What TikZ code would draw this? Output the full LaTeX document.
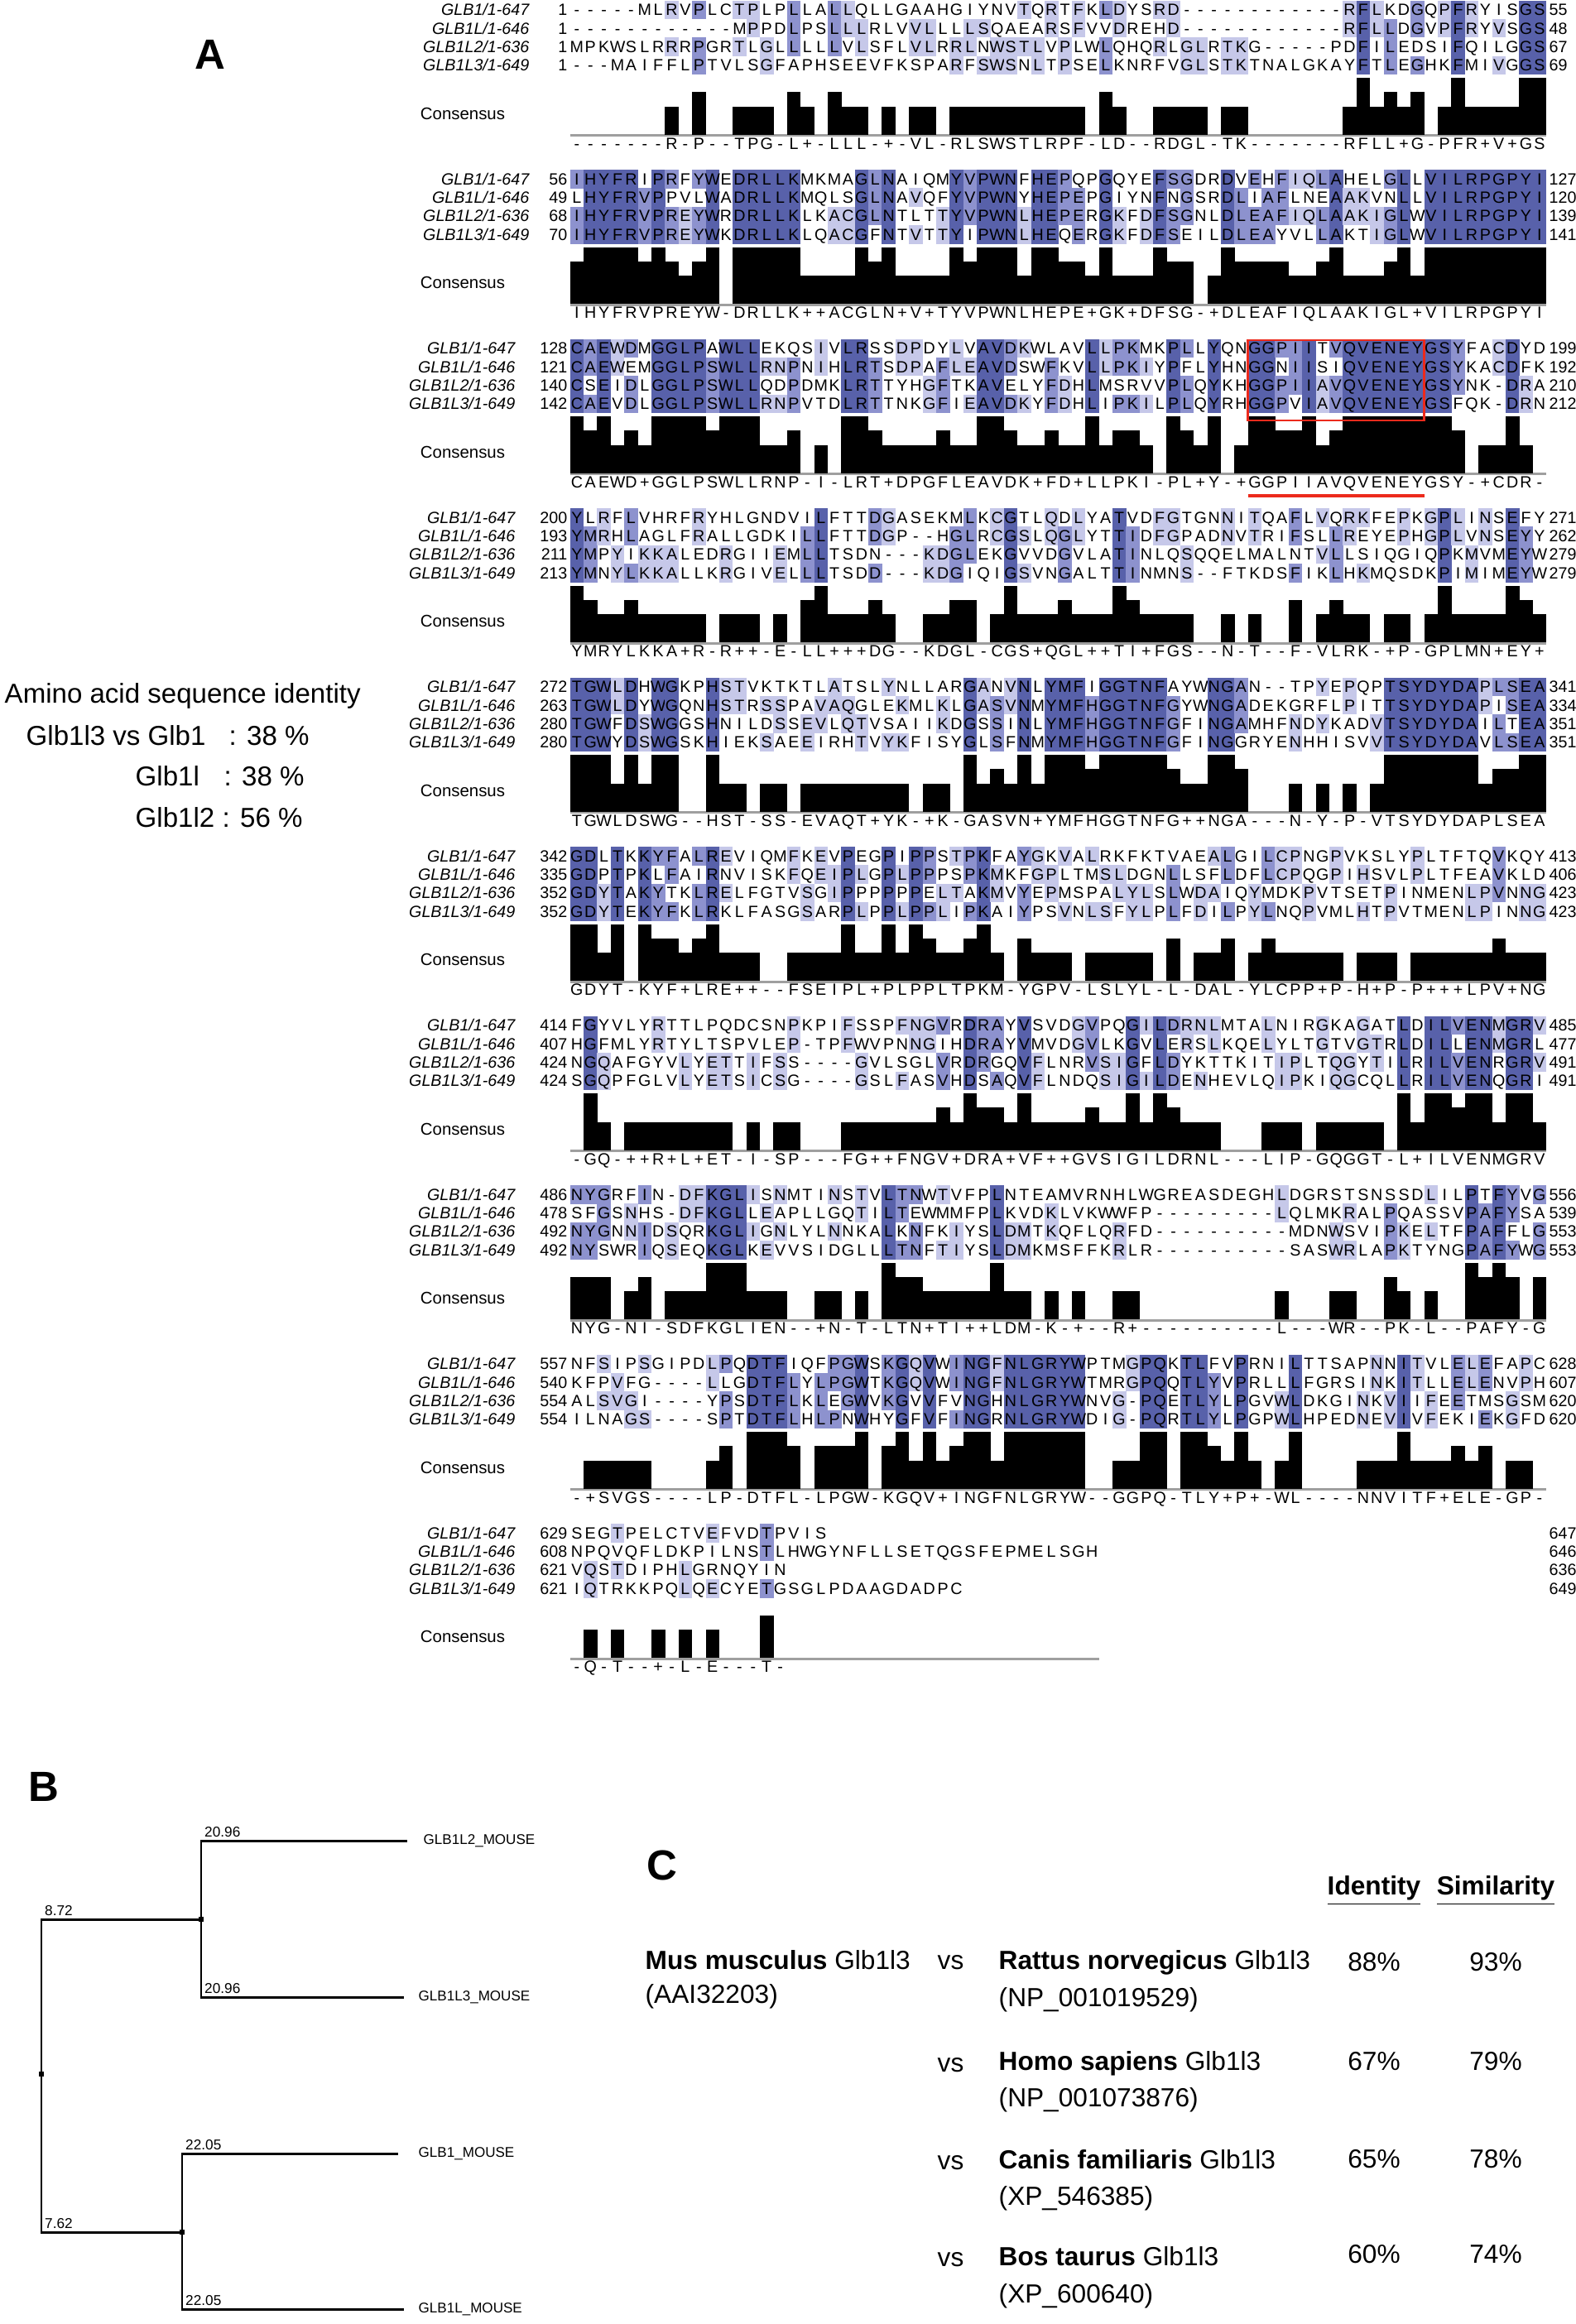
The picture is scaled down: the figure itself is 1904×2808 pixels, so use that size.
\documentclass[tikz,border=0pt]{standalone}
\usepackage{fontspec}
\setmainfont{Liberation Sans}
\usetikzlibrary{positioning}

% percentage identity shades
\definecolor{pidfour}{RGB}{88,97,170}
\definecolor{pidthree}{RGB}{141,146,206}
\definecolor{pidtwo}{RGB}{198,200,233}
\definecolor{boxred}{RGB}{236,42,28}

\tikzset{
  res/.style={inner sep=0pt, anchor=base, font=\fontsize{5.6}{6}\selectfont},
  seqname/.style={inner sep=0pt, anchor=base east, font=\fontsize{5.6}{6}\selectfont\itshape},
  seqstart/.style={inner sep=0pt, anchor=base east, font=\fontsize{5.6}{6}\selectfont},
  seqend/.style={inner sep=0pt, anchor=base west, font=\fontsize{5.6}{6}\selectfont},
  conslabel/.style={inner sep=0pt, font=\fontsize{5.8}{6}\selectfont},
  panel/.style={inner sep=0pt, font=\fontsize{14.5}{16}\selectfont\bfseries},
  branch/.style={line width=0.85pt},
  brlen/.style={inner sep=1pt, anchor=south west, font=\fontsize{4.9}{5}\selectfont},
  leaf/.style={inner sep=0pt, anchor=west, font=\fontsize{4.85}{5}\selectfont},
  treedot/.style={fill, inner sep=0pt, minimum size=0.055cm},
  info/.style={inner sep=0pt, anchor=base west, font=\fontsize{9.4}{11}\selectfont},
  tab/.style={inner sep=0pt, anchor=base west, font=\fontsize{9}{10}\selectfont},
  pct/.style={inner sep=0pt, anchor=base, font=\fontsize{9}{10}\selectfont},
}

% one residue: block, row, column, letter, shade
\newcommand\alnres[5]{%
  \ifcase#5\or\or
    \fill[pidtwo] ({688.7+16.38*(#3-1)},{204.5*#1+0.6+22.3*(#2-1)}) rectangle ++(16.6,22.5);%
  \or
    \fill[pidthree] ({688.7+16.38*(#3-1)},{204.5*#1+0.6+22.3*(#2-1)}) rectangle ++(16.6,22.5);%
  \or
    \fill[pidfour] ({688.7+16.38*(#3-1)},{204.5*#1+0.6+22.3*(#2-1)}) rectangle ++(16.6,22.5);%
  \fi
  \node[res] (r#1-#2-#3) at ({696.9+16.38*(#3-1)},{204.5*#1+18.7+22.3*(#2-1)}) {#4};}

% consensus bar and letter: block, column, letter, count
\newcommand\alncons[4]{%
  \ifnum#4>1
    \fill ({688.7+16.38*(#2-1)},{204.5*#1+162.8}) rectangle ++(16.6,{-17.15*#4});%
  \fi
  \node[res] (c#1-#2) at ({696.9+16.38*(#2-1)},{204.5*#1+180}) {#3};}

% row name and numbers: block, row, name, name x, start, end
\newcommand\alnrow[6]{%
  \node[seqstart] (s#1-#2) at (686,{204.5*#1+18.7+22.3*(#2-1)}) {#5};
  \node[seqname] (n#1-#2) at (#4,{204.5*#1+18.7+22.3*(#2-1)}) {#3};
  \node[seqend] (e#1-#2) at (1871,{204.5*#1+18.7+22.3*(#2-1)}) {#6};}

% consensus label and base line: block, columns
\newcommand\alnbase[2]{%
  \node[conslabel] (cl#1) at (559,{204.5*#1+137}) {Consensus};
  \draw[gray!75, line width=0.85pt] (688.7,{204.5*#1+163.8}) -- ++({16.38*#2},0);}

\ExplSyntaxOn
\int_new:N \l_aln_blk_int
\int_new:N \l_aln_col_int
\int_new:N \l_aln_len_int
\int_new:N \l_aln_min_int
\int_new:N \l_aln_max_int
\int_new:N \l_aln_lvl_int
\bool_new:N \l_aln_tie_bool
\tl_new:N \l_aln_mode_tl
\int_step_inline:nn { 4 }
  {
    \str_new:c { l_aln_s_#1_str }
    \tl_new:c { l_aln_c_#1_tl }
    \int_new:c { l_aln_n_#1_int }
  }
\cs_generate_variant:Nn \str_item:Nn { c }
\cs_generate_variant:Nn \str_count:N { c }

\cs_new_protected:Npn \aln_count:n #1
  {
    \int_zero:c { l_aln_n_#1_int }
    \tl_if_empty:cF { l_aln_c_#1_tl }
      {
        \str_if_eq:eeF { \tl_use:c { l_aln_c_#1_tl } } { - }
          {
            \int_step_inline:nn { 4 }
              {
                \str_if_eq:eeT
                  { \tl_use:c { l_aln_c_#1_tl } }
                  { \tl_use:c { l_aln_c_##1_tl } }
                  { \int_incr:c { l_aln_n_#1_int } }
              }
          }
      }
  }

\cs_new_protected:Npn \aln_mode:n #1
  {
    \int_compare:nNnT { \int_use:c { l_aln_n_#1_int } } = { \l_aln_max_int }
      {
        \int_compare:nNnT { \l_aln_max_int } > { 0 }
          {
            \tl_if_empty:NTF \l_aln_mode_tl
              { \tl_set_eq:Nc \l_aln_mode_tl { l_aln_c_#1_tl } }
              {
                \str_if_eq:eeF { \tl_use:N \l_aln_mode_tl } { \tl_use:c { l_aln_c_#1_tl } }
                  { \bool_set_true:N \l_aln_tie_bool }
              }
          }
      }
  }

\cs_new_protected:Npn \aln_draw:n #1
  {
    \tl_if_empty:cF { l_aln_c_#1_tl }
      {
        \int_compare:nNnTF { \int_use:c { l_aln_n_#1_int } } = { \l_aln_lvl_int }
          { \int_set_eq:NN \l_tmpa_int \l_aln_lvl_int }
          { \int_zero:N \l_tmpa_int }
        \use:e
          {
            \exp_not:N \alnres
              { \int_use:N \l_aln_blk_int } { #1 } { \int_use:N \l_aln_col_int }
              { \tl_use:c { l_aln_c_#1_tl } } { \int_use:N \l_tmpa_int }
          }
      }
  }

\cs_new_protected:Npn \aln_column:n #1
  {
    \int_set:Nn \l_aln_col_int {#1}
    \int_step_inline:nn { 4 }
      { \tl_set:cx { l_aln_c_##1_tl } { \str_item:cn { l_aln_s_##1_str } {#1} } }
    \int_step_function:nN { 4 } \aln_count:n
    \int_zero:N \l_aln_max_int
    \int_step_inline:nn { 4 }
      {
        \int_set:Nn \l_aln_max_int
          { \int_max:nn { \l_aln_max_int } { \int_use:c { l_aln_n_##1_int } } }
      }
    \bool_set_false:N \l_aln_tie_bool
    \tl_clear:N \l_aln_mode_tl
    \int_step_function:nN { 4 } \aln_mode:n
    \int_compare:nNnTF { \l_aln_max_int } < { 2 }
      {
        \tl_set:Nn \l_aln_mode_tl { - }
        \int_zero:N \l_aln_lvl_int
      }
      {
        \bool_if:NTF \l_aln_tie_bool
          {
            \tl_set:Nn \l_aln_mode_tl { + }
            \int_zero:N \l_aln_lvl_int
          }
          { \int_set_eq:NN \l_aln_lvl_int \l_aln_max_int }
      }
    \int_step_function:nN { 4 } \aln_draw:n
    % no consensus letter past the shortest row
    \int_compare:nNnT {#1} > { \l_aln_min_int } { \tl_clear:N \l_aln_mode_tl }
    \use:e
      {
        \exp_not:N \alncons
          { \int_use:N \l_aln_blk_int } { #1 }
          { \tl_use:N \l_aln_mode_tl } { \int_use:N \l_aln_max_int }
      }
  }

% block, name x, start numbers, end numbers, four rows
\NewDocumentCommand \AlnBlock { m m m m m m m m }
  {
    \int_set:Nn \l_aln_blk_int {#1}
    \str_set:cn { l_aln_s_1_str } {#5}
    \str_set:cn { l_aln_s_2_str } {#6}
    \str_set:cn { l_aln_s_3_str } {#7}
    \str_set:cn { l_aln_s_4_str } {#8}
    \int_zero:N \l_aln_len_int
    \int_set:Nn \l_aln_min_int { 1000 }
    \int_step_inline:nn { 4 }
      {
        \int_set:Nn \l_aln_len_int
          { \int_max:nn { \l_aln_len_int } { \str_count:c { l_aln_s_##1_str } } }
        \int_set:Nn \l_aln_min_int
          { \int_min:nn { \l_aln_min_int } { \str_count:c { l_aln_s_##1_str } } }
      }
    \alnrow {#1} {1} {GLB1/1-647} {#2} { \clist_item:nn {#3} {1} } { \clist_item:nn {#4} {1} }
    \alnrow {#1} {2} {GLB1L/1-646} {#2} { \clist_item:nn {#3} {2} } { \clist_item:nn {#4} {2} }
    \alnrow {#1} {3} {GLB1L2/1-636} {#2} { \clist_item:nn {#3} {3} } { \clist_item:nn {#4} {3} }
    \alnrow {#1} {4} {GLB1L3/1-649} {#2} { \clist_item:nn {#3} {4} } { \clist_item:nn {#4} {4} }
    \alnbase {#1} { \int_use:N \l_aln_len_int }
    \int_step_function:nN { \l_aln_len_int } \aln_column:n
  }
\ExplSyntaxOff

\begin{document}
\begin{tikzpicture}[x=0.01cm, y=-0.01cm]
  \useasboundingbox (0,0) rectangle (1904,2808);

  % A: alignment
  \node[panel] (A) at (254,66) {A};
  \AlnBlock{0}{640}{1,1,1,1}{55,48,67,69}
    {-----MLRVPLCTPLPLLALLQLLGAAHGIYNVTQRTFKLDYSRD------------RFLKDGQPFRYISGS}
    {------------MPPDLPSLLLRLVVLLLLSQAEARSFVVDREHD------------RFLLDGVPFRYVSGS}
    {MPKWSLRRRPGRTLGLLLLLVLSFLVLRRLNWSTLVPLWLQHQRLGLRTKG-----PDFILEDSIFQILGGS}
    {---MAIFFLPTVLSGFAPHSEEVFKSPARFSWSNLTPSELKNRFVGLSTKTNALGKAYFTLEGHKFMIVGGS}
  \AlnBlock{1}{640}{56,49,68,70}{127,120,139,141}
    {IHYFRIPRFYWEDRLLKMKMAGLNAIQMYVPWNFHEPQPGQYEFSGDRDVEHFIQLAHELGLLVILRPGPYI}
    {LHYFRVPPVLWADRLLKMQLSGLNAVQFYVPWNYHEPEPGIYNFNGSRDLIAFLNEAAKVNLLVILRPGPYI}
    {IHYFRVPREYWRDRLLKLKACGLNTLTTYVPWNLHEPERGKFDFSGNLDLEAFIQLAAKIGLWVILRPGPYI}
    {IHYFRVPREYWKDRLLKLQACGFNTVTTYIPWNLHEQERGKFDFSEILDLEAYVLLAKTIGLWVILRPGPYI}
  \AlnBlock{2}{623}{128,121,140,142}{199,192,210,212}
    {CAEWDMGGLPAWLLEKQSIVLRSSDPDYLVAVDKWLAVLLPKMKPLLYQNGGPIITVQVENEYGSYFACDYD}
    {CAEWEMGGLPSWLLRNPNIHLRTSDPAFLEAVDSWFKVLLPKIYPFLYHNGGNIISIQVENEYGSYKACDFK}
    {CSEIDLGGLPSWLLQDPDMKLRTTYHGFTKAVELYFDHLMSRVVPLQYKHGGPIIAVQVENEYGSYNK-DRA}
    {CAEVDLGGLPSWLLRNPVTDLRTTNKGFIEAVDKYFDHLIPKILPLQYRHGGPVIAVQVENEYGSFQK-DRN}
  \AlnBlock{3}{623}{200,193,211,213}{271,262,279,279}
    {YLRFLVHRFRYHLGNDVILFTTDGASEKMLKCGTLQDLYATVDFGTGNNITQAFLVQRKFEPKGPLINSEFY}
    {YMRHLAGLFRALLGDKILLFTTDGP--HGLRCGSLQGLYTTIDFGPADNVTRIFSLLREYEPHGPLVNSEYY}
    {YMPYIKKALEDRGIIEMLLTSDN---KDGLEKGVVDGVLATINLQSQQELMALNTVLLSIQGIQPKMVMEYW}
    {YMNYLKKALLKRGIVELLLTSDD---KDGIQIGSVNGALTTINMNS--FTKDSFIKLHKMQSDKPIMIMEYW}
  \AlnBlock{4}{623}{272,263,280,280}{341,334,351,351}
    {TGWLDHWGKPHSTVKTKTLATSLYNLLARGANVNLYMFIGGTNFAYWNGAN--TPYEPQPTSYDYDAPLSEA}
    {TGWLDYWGQNHSTRSSPAVAQGLEKMLKLGASVNMYMFHGGTNFGYWNGADEKGRFLPITTSYDYDAPISEA}
    {TGWFDSWGGSHNILDSSEVLQTVSAIIKDGSSINLYMFHGGTNFGFINGAMHFNDYKADVTSYDYDAILTEA}
    {TGWYDSWGSKHIEKSAEEIRHTVYKFISYGLSFNMYMFHGGTNFGFINGGRYENHHISVVTSYDYDAVLSEA}
  \AlnBlock{5}{623}{342,335,352,352}{413,406,423,423}
    {GDLTKKYFALREVIQMFKEVPEGPIPPSTPKFAYGKVALRKFKTVAEALGILCPNGPVKSLYPLTFTQVKQY}
    {GDPTPKLFAIRNVISKFQEIPLGPLPPPSPKMKFGPLTMSLDGNLLSFLDFLCPQGPIHSVLPLTFEAVKLD}
    {GDYTAKYTKLRELFGTVSGIPPPPPPELTAKMVYEPMSPALYLSLWDAIQYMDKPVTSETPINMENLPVNNG}
    {GDYTEKYFKLRKLFASGSARPLPPLPPLIPKAIYPSVNLSFYLPLFDILPYLNQPVMLHTPVTMENLPINNG}
  \AlnBlock{6}{623}{414,407,424,424}{485,477,491,491}
    {FGYVLYRTTLPQDCSNPKPIFSSPFNGVRDRAYVSVDGVPQGILDRNLMTALNIRGKAGATLDILVENMGRV}
    {HGFMLYRTYLTSPVLEP-TPFWVPNNGIHDRAYVMVDGVLKGVLERSLKQELYLTGTVGTRLDILLENMGRL}
    {NGQAFGYVLYETTIFSS----GVLSGLVRDRGQVFLNRVSIGFLDYKTTKITIPLTQGYTILRILVENRGRV}
    {SGQPFGLVLYETSICSG----GSLFASVHDSAQVFLNDQSIGILDENHEVLQIPKIQGCQLLRILVENQGRI}
  \AlnBlock{7}{623}{486,478,492,492}{556,539,553,553}
    {NYGRFIN-DFKGLISNMTINSTVLTNWTVFPLNTEAMVRNHLWGREASDEGHLDGRSTSNSSDLILPTFYVG}
    {SFGSNHS-DFKGLLEAPLLGQTILTEWMMFPLKVDKLVKWWFP---------LQLMKRALPQASSVPAFYSA}
    {NYGNNIDSQRKGLIGNLYLNNKALKNFKIYSLDMTKQFLQRFD----------MDNWSVIPKELTFPAFFLG}
    {NYSWRIQSEQKGLKEVVSIDGLLLTNFTIYSLDMKMSFFKRLR----------SASWRLAPKTYNGPAFYWG}
  \AlnBlock{8}{623}{557,540,554,554}{628,607,620,620}
    {NFSIPSGIPDLPQDTFIQFPGWSKGQVWINGFNLGRYWPTMGPQKTLFVPRNILTTSAPNNITVLELEFAPC}
    {KFPVFG----LLGDTFLYLPGWTKGQVWINGFNLGRYWTMRGPQQTLYVPRLLLFGRSINKITLLELENVPH}
    {ALSVGI----YPSDTFLKLEGWVKGVVFVNGHNLGRYWNVG-PQETLYLPGVWLDKGINKVIIFEETMSGSM}
    {ILNAGS----SPTDTFLHLPNWHYGFVFINGRNLGRYWDIG-PQRTLYLPGPWLHPEDNEVIVFEKIEKGFD}
  \AlnBlock{9}{623}{629,608,621,621}{647,646,636,649}
    {SEGTPELCTVEFVDTPVIS}
    {NPQVQFLDKPILNSTLHWGYNFLLSETQGSFEPMELSGH}
    {VQSTDIPHLGRNQYIN}
    {IQTRKKPQLQECYETGSGLPDAAGDADPC}

  % motif box
  \draw[boxred, line width=0.75pt] (1507.7,411) rectangle (1720.6,508);
  \draw[boxred, line width=1pt] (1507.7,599) -- (1720.6,599);

  % identity note
  \node[info] (idtitle) at (5,849) {Amino acid sequence identity};
  \node[info] (vsone) at (31,900) {Glb1l3 vs Glb1};
  \node[info] (pcone) at (276,900) {: 38 \%};
  \node[info] (vstwo) at (163,949) {Glb1l};
  \node[info] (pctwo) at (270,949) {: 38 \%};
  \node[info] (vsthree) at (163,999) {Glb1l2};
  \node[info] (pcthree) at (268,999) {: 56 \%};

  % B: tree
  \node[panel] (B) at (53,2159) {B};
  \node[leaf] (ltwo) at (511,2224) {GLB1L2\_MOUSE};
  \node[leaf] (lthree) at (505,2413) {GLB1L3\_MOUSE};
  \node[leaf] (lone) at (505,2602) {GLB1\_MOUSE};
  \node[leaf] (lzero) at (505,2790) {GLB1L\_MOUSE};
  \coordinate (upper) at (243,2319);
  \coordinate (lower) at (220,2697);
  \coordinate (root) at (50,2506);
  \draw[branch] ([xshift=-0.19cm]ltwo.west) -- (upper |- ltwo.west) -- (upper |- lthree.west) -- ([xshift=-0.17cm]lthree.west);
  \draw[branch] ([xshift=-0.24cm]lone.west) -- (lower |- lone.west) -- (lower |- lzero.west) -- ([xshift=-0.17cm]lzero.west);
  \draw[branch] (upper) -- (root |- upper) -- (root |- lower) -- (lower);
  \node[treedot] (dupper) at (upper) {};
  \node[treedot] (dlower) at (lower) {};
  \node[treedot] (droot) at (root) {};
  \node[brlen] (btwo) at (upper |- ltwo.west) {20.96};
  \node[brlen] (bthree) at (upper |- lthree.west) {20.96};
  \node[brlen] (bone) at (lower |- lone.west) {22.05};
  \node[brlen] (bzero) at (lower |- lzero.west) {22.05};
  \node[brlen] (bup) at (root |- upper) {8.72};
  \node[brlen] (blow) at (root |- lower) {7.62};

  % C: comparison
  \node[panel] (C) at (800,2254) {C};
  \node[pct, font=\fontsize{9}{10}\selectfont\bfseries] (ident) at (1660,2289) {\underline{Identity}};
  \node[pct, font=\fontsize{9}{10}\selectfont\bfseries] (simil) at (1807,2289) {\underline{Similarity}};
  \node[tab] (mus) at (779,2379) {\textbf{Mus musculus} Glb1l3};
  \node[tab] (musid) at (779,2420) {(AAI32203)};
  \node[tab] (vsa) at (1132,2379) {vs};
  \node[tab] (rat) at (1206,2379) {\textbf{Rattus norvegicus} Glb1l3};
  \node[tab] (ratid) at (1206,2424) {(NP\_001019529)};
  \node[pct] (ratide) at (1660,2381) {88\%};
  \node[pct] (ratsim) at (1807,2381) {93\%};
  \node[tab] (vsb) at (1132,2503) {vs};
  \node[tab] (hom) at (1206,2501) {\textbf{Homo sapiens} Glb1l3};
  \node[tab] (homid) at (1206,2545) {(NP\_001073876)};
  \node[pct] (homide) at (1660,2501) {67\%};
  \node[pct] (homsim) at (1807,2501) {79\%};
  \node[tab] (vsc) at (1132,2621) {vs};
  \node[tab] (can) at (1206,2620) {\textbf{Canis familiaris} Glb1l3};
  \node[tab] (canid) at (1206,2664) {(XP\_546385)};
  \node[pct] (canide) at (1660,2619) {65\%};
  \node[pct] (cansim) at (1807,2619) {78\%};
  \node[tab] (vsd) at (1132,2738) {vs};
  \node[tab] (bos) at (1206,2737) {\textbf{Bos taurus} Glb1l3};
  \node[tab] (bosid) at (1206,2782) {(XP\_600640)};
  \node[pct] (boside) at (1660,2734) {60\%};
  \node[pct] (bossim) at (1807,2734) {74\%};
\end{tikzpicture}
\end{document}
